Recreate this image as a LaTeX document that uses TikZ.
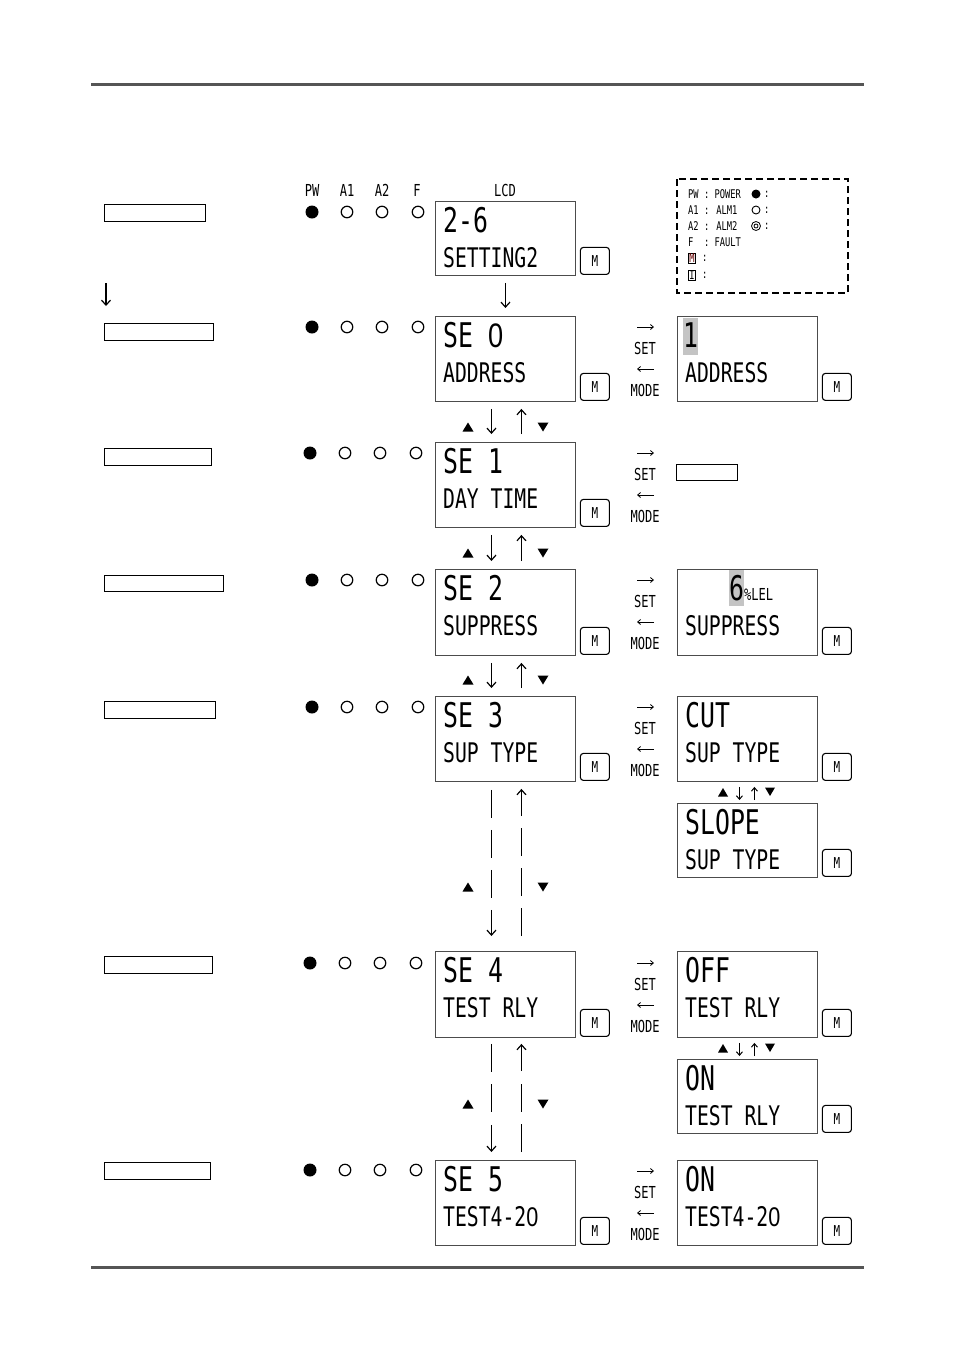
\documentclass[tikz,border=0pt]{standalone}
\usepackage{fontspec}
\newfontfamily\lcdf[FakeStretch=0.73]{DejaVu Sans Mono}
\newfontfamily\zf[FakeStretch=0.8]{Liberation Sans}
\usetikzlibrary{arrows.meta}
\definecolor{rulegray}{HTML}{555555}
\definecolor{hil}{HTML}{C4C4C4}
\tikzset{
 lcdbox/.style={draw=black!70, line width=0.9pt, minimum width=140pt, inner sep=0},
 mbtn/.style={draw, rounded corners=3pt, line width=1.1pt, minimum width=29pt, minimum height=27pt, inner sep=0, font=\lcdf\fontsize{15}{15}\selectfont},
 big/.style={anchor=base west, inner sep=0, font=\lcdf\fontsize{34}{34}\selectfont},
 second/.style={anchor=base west, inner sep=0, font=\lcdf\fontsize{27}{27}\selectfont},
 small/.style={inner sep=0, font=\lcdf\fontsize{16.5}{16.5}\selectfont},
 tiny/.style={inner sep=0, anchor=west, font=\lcdf\fontsize{12}{12}\selectfont},
 ledon/.style={circle, fill, minimum size=13pt, inner sep=0},
 ledoff/.style={circle, draw, line width=1.2pt, minimum size=11.5pt, inner sep=0},
 arr/.style={line width=1.6pt, -{Straight Barb[length=5pt,width=9pt,line width=1.2pt]}},
 sarr/.style={line width=1.1pt, -{Straight Barb[length=3.5pt,width=6pt,line width=1pt]}},
 thinarr/.style={line width=0.9pt, -{Straight Barb[length=3pt,width=5pt,line width=0.8pt]}},
 blankbox/.style={draw, line width=1.1pt, inner sep=0, anchor=north west},
 longdash/.style={dash pattern=on 28pt off 12pt},
}
\newcommand\mylcd[6]{%
  \node[lcdbox, minimum height=#4pt, anchor=north west] (#1) at (#2,#3) {};
  \node[big] (#1t) at ([xshift=8pt,yshift=-31pt]#1.north west) {#5};
  \node[second] (#1b) at ([xshift=8pt,yshift=-66pt]#1.north west) {#6};
  \node[mbtn] (#1m) at ([xshift=19pt,yshift=15pt]#1.south east) {M};
}
\newcommand\tup[2]{\fill (#1-5.5,#2+4.5) -- (#1+5.5,#2+4.5) -- (#1,#2-4.5) -- cycle;}
\newcommand\tdn[2]{\fill (#1-5.5,#2-4.5) -- (#1+5.5,#2-4.5) -- (#1,#2+4.5) -- cycle;}
\newcommand\stup[2]{\fill (#1-5,#2+4.5) -- (#1+5,#2+4.5) -- (#1,#2-4) -- cycle;}
\newcommand\stdn[2]{\fill (#1-5,#2-4.5) -- (#1+5,#2-4.5) -- (#1,#2+4) -- cycle;}
\newcommand\setmode[2]{%
  \coordinate (sa#2) at (637,#1); \coordinate (sb#2) at (654,#1);
  \draw[thinarr] (sa#2) -- (sb#2);
  \node[small] (set#2) at (645,#1+21) {SET};
  \coordinate (sc#2) at (654,#1+42); \coordinate (sd#2) at (637,#1+42);
  \draw[thinarr] (sc#2) -- (sd#2);
  \node[small] (mode#2) at (645,#1+63) {MODE};
}
\begin{document}
\begin{tikzpicture}[x=1pt,y=-1pt]
\useasboundingbox (0,0) rectangle (954,1350);
\fill[white] (0,0) rectangle (954,1350);
% rules
\draw[line width=3pt, rulegray] (91,84) -- (864,84);
\draw[line width=3pt, rulegray] (91,1267) -- (864,1267);

% header
\node[small] (hpw) at (312,190) {PW};
\node[small] (ha1) at (347,190) {A1};
\node[small] (ha2) at (382,190) {A2};
\node[small] (hf) at (417,190) {F};
\node[small] (hlcd) at (505,190) {LCD};

% left blank boxes
\node[blankbox, minimum width=101pt, minimum height=17pt] (b1) at (104,204) {};
\node[blankbox, minimum width=109pt, minimum height=17pt] (b2) at (104,323) {};
\node[blankbox, minimum width=107pt, minimum height=17pt] (b3) at (104,448) {};
\node[blankbox, minimum width=119pt, minimum height=16pt] (b4) at (104,575) {};
\node[blankbox, minimum width=111pt, minimum height=17pt] (b5) at (104,701) {};
\node[blankbox, minimum width=108pt, minimum height=17pt] (b6) at (104,956) {};
\node[blankbox, minimum width=106pt, minimum height=17pt] (b7) at (104,1162) {};
\draw[arr] ([xshift=2pt]b1.south west) ++(0,61) coordinate (la) -- ([xshift=2pt,yshift=17pt]b2.north west);

% LEDs
\foreach \r/\y/\dx in {1/212/0, 2/327/0, 3/453/-2, 4/580/0, 5/707/0, 6/963/-2, 7/1170/-2}{
  \node[ledon] (pw\r) at (312+\dx,\y) {};
  \node[ledoff] (aa\r) at (347+\dx,\y) {};
  \node[ledoff] (ab\r) at (382+\dx,\y) {};
  \node[ledoff] (fl\r) at (418+\dx,\y) {};
}

% left LCDs
\mylcd{L1}{435}{201}{74}{2-6}{SETTING2}
\mylcd{L2}{435}{316}{85}{SE {\zf 0}}{ADDRESS}
\mylcd{L3}{435}{442}{85}{SE 1}{DAY TIME}
\mylcd{L4}{435}{569}{86}{SE 2}{SUPPRESS}
\mylcd{L5}{435}{696}{85}{SE 3}{SUP TYPE}
\mylcd{L6}{435}{951}{86}{SE 4}{TEST RLY}
\mylcd{L7}{435}{1160}{85}{SE 5}{TEST4-2{\zf 0}}

% right LCDs
\fill[hil] (683,318) rectangle (698,355);
\mylcd{R2}{677}{316}{85}{}{ADDRESS}
\node[big, anchor=base] (R2h) at (690.5,347) {1};
\fill[hil] (729,570) rectangle (744,606);
\mylcd{R4}{677}{569}{86}{}{SUPPRESS}
\node[big, anchor=base] (R4h) at (736.5,600) {6};
\node[small, anchor=base west] (R4u) at (744,600) {\%LEL};
\mylcd{R5}{677}{696}{85}{CUT}{SUP TYPE}
\mylcd{R5s}{677}{803}{74}{SLOPE}{SUP TYPE}
\mylcd{R6}{677}{951}{86}{OFF}{TEST RLY}
\mylcd{R6s}{677}{1059}{74}{ON}{TEST RLY}
\mylcd{R7}{677}{1160}{85}{ON}{TEST4-2{\zf 0}}
\node[blankbox, minimum width=61pt, minimum height=16pt] (R3) at (676,464) {};

% SET / MODE
\setmode{327}{2}
\setmode{453}{3}
\setmode{580}{4}
\setmode{707}{5}
\setmode{963}{6}
\setmode{1171}{7}

% vertical arrows
\draw[arr, shorten <=7pt, shorten >=8pt] (L1.south) -- (L2.north);
\foreach \a/\b in {L2/L3, L3/L4, L4/L5}{
  \draw[arr, shorten <=7pt, shorten >=8pt] ([xshift=-14pt]\a.south) -- ([xshift=-14pt]\b.north);
  \draw[arr, shorten <=8pt, shorten >=7pt] ([xshift=16pt]\b.north) -- ([xshift=16pt]\a.south);
}
\tup{468}{427} \tdn{543}{427}
\tup{468}{553} \tdn{543}{553}
\tup{468}{680} \tdn{543}{680}

\draw[arr, longdash, shorten <=8pt, shorten >=15pt] ([xshift=-14pt]L5.south) -- ([xshift=-14pt]L6.north);
\draw[arr, longdash, shorten <=15pt, shorten >=7pt] ([xshift=16pt]L6.north) -- ([xshift=16pt]L5.south);
\tup{468}{887} \tdn{543}{887}
\draw[arr, dash pattern=on 28pt off 12.5pt, shorten <=6pt, shorten >=8pt] ([xshift=-14pt]L6.south) -- ([xshift=-14pt]L7.north);
\draw[arr, dash pattern=on 28pt off 12.5pt, shorten <=8pt, shorten >=6pt] ([xshift=16pt]L7.north) -- ([xshift=16pt]L6.south);
\tup{468}{1104} \tdn{543}{1104}

% right small arrows
\draw[sarr, shorten <=5pt, shorten >=3pt] ([xshift=-8pt]R5.south) -- ([xshift=-8pt]R5s.north);
\draw[sarr, shorten <=3pt, shorten >=5pt] ([xshift=7pt]R5s.north) -- ([xshift=7pt]R5.south);
\stup{723}{792} \stdn{770}{792}
\draw[sarr, shorten <=5pt, shorten >=3pt] ([xshift=-8pt]R6.south) -- ([xshift=-8pt]R6s.north);
\draw[sarr, shorten <=3pt, shorten >=5pt] ([xshift=7pt]R6s.north) -- ([xshift=7pt]R6.south);
\stup{723}{1048} \stdn{770}{1048}

% legend
\draw[line width=1.6pt, dash pattern=on 7pt off 4pt] (677,179) rectangle (848,293);
\node[tiny] (lg1) at (688,194) {PW : POWER};
\node[tiny] (lg2) at (688,210) {A1 : ALM1};
\node[tiny] (lg3) at (688,226) {A2 : ALM2};
\node[tiny] (lg4) at (688,242) {F\ \ : FAULT};
\fill (756,194) circle (4.5pt);
\draw[line width=0.9pt] (756,210) circle (4pt);
\draw[line width=0.8pt] (756,226) circle (4.5pt) (756,226) circle (2pt);
\node[tiny] (lc1) at (764,194) {:};
\node[tiny] (lc2) at (764,210) {:};
\node[tiny] (lc3) at (764,226) {:};
\node[tiny, draw, line width=0.6pt, inner sep=0.8pt, anchor=center, text=black!60!red] (lgm) at (692,258) {M};
\node[tiny] (lc5) at (702,258) {:};
\node[tiny, draw, line width=0.6pt, inner sep=0.8pt, anchor=center] (lgi) at (692,275) {I};
\node[tiny] (lc6) at (702,275) {:};
\end{tikzpicture}
\end{document}
